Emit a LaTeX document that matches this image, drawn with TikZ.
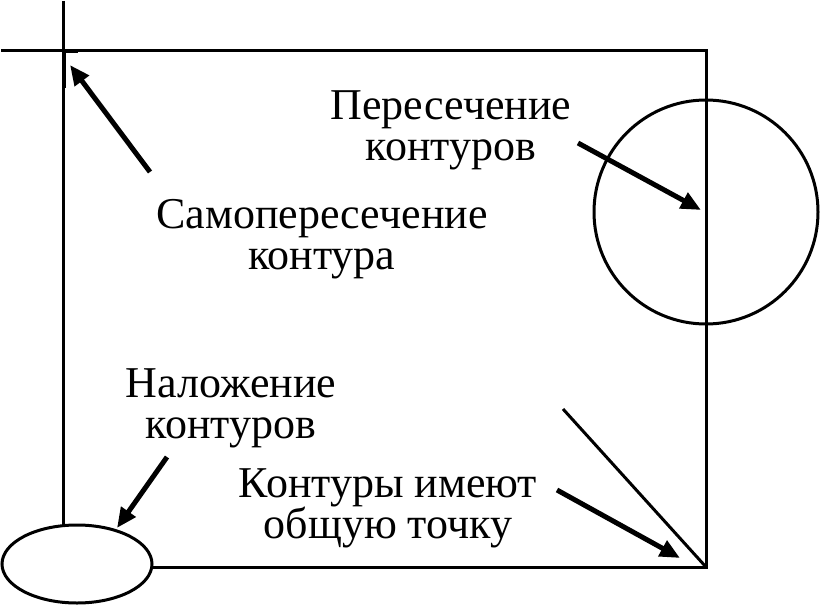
\documentclass[tikz,border=0pt]{standalone}
\usepackage{fontspec}
\setmainfont{Liberation Serif}
\usetikzlibrary{arrows.meta,shapes.geometric}
\begin{document}
\begin{tikzpicture}[x=1pt,y=-1pt,
  contour/.style={line width=3pt},
  pointer/.style={line width=5pt,-{Triangle[length=20pt,width=17pt]}},
  lbl/.style={align=center,anchor=north,inner sep=0pt,font=\fontsize{44}{41}\selectfont}]
\useasboundingbox (0,0) rectangle (824,607);
% contours
\node[draw,contour,ellipse,minimum width=150pt,minimum height=78pt,inner sep=0pt] (ell) at (77,564) {};
\node[draw,contour,circle,minimum size=224pt,inner sep=0pt] (circ) at (706,212) {};
\coordinate (lt) at (63,1);
\coordinate (tl) at (1,51);
\coordinate (tr) at (706,51);
\coordinate (br) at (706,567);
\coordinate (bl) at (152,567);
\coordinate (lb) at (63,526);
\coordinate (dg) at (563,409);
\draw[contour] (lt) -- (lb);
\draw[contour] (tl) -- (tr) -- (br) -- (bl);
\draw[contour] (dg) -- (br);
\draw[line width=2pt] (65,51) -- (65,88);
\draw[line width=1.5pt] (63,52.5) -- (78,52.5);
% labels
\node[lbl] (peres) at (451,90) {Пересечение\\контуров};
\node[lbl] (samo) at (322,199) {Самопересечение\\контура};
\node[lbl] (nalo) at (231,368) {Наложение\\контуров};
\node[lbl] (obsh) at (388,468) {Контуры имеют\\общую точку};
% pointers
\coordinate (t1) at (150,172); \coordinate (h1) at (70,65);
\coordinate (t2) at (578,143); \coordinate (h2) at (701,210);
\coordinate (t3) at (167,457); \coordinate (h3) at (117,528);
\coordinate (t4) at (557,490); \coordinate (h4) at (680,558);
\draw[pointer] (t1) -- (h1);
\draw[pointer] (t2) -- (h2);
\draw[pointer] (t3) -- (h3);
\draw[pointer] (t4) -- (h4);
\end{tikzpicture}
\end{document}
